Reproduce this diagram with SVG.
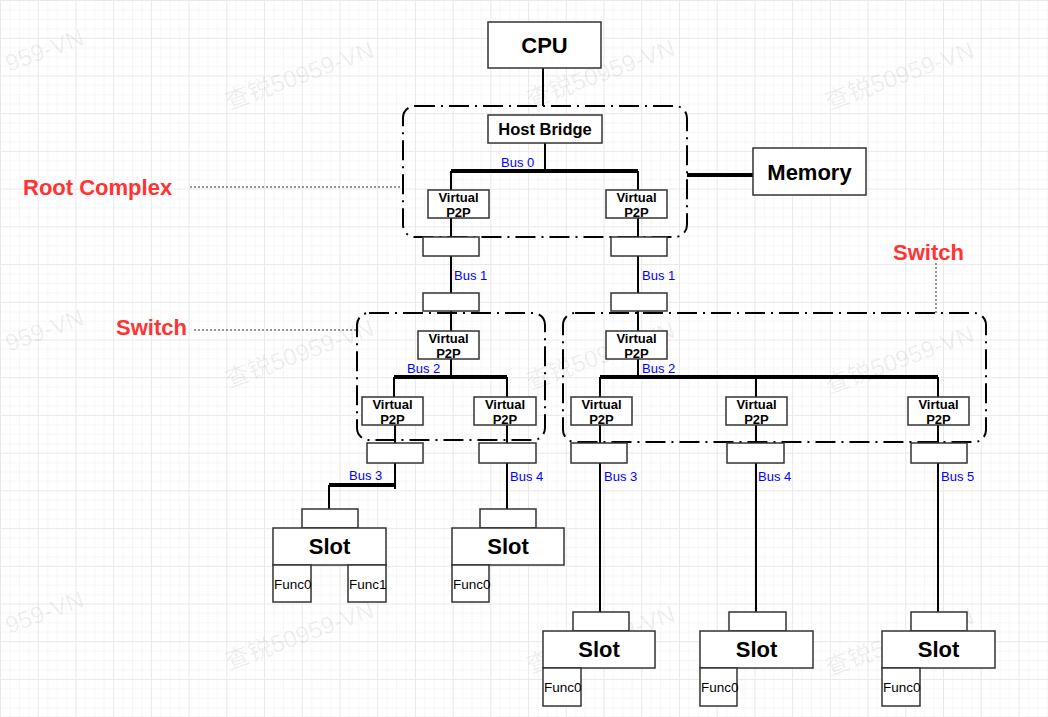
<svg xmlns="http://www.w3.org/2000/svg" width="1048" height="717" viewBox="0 0 1048 717">
<defs>
<pattern id="grid" x="0" y="0" width="37.72" height="37.72" patternUnits="userSpaceOnUse">
<path d="M9.93 0V37.72M19.36 0V37.72M28.79 0V37.72M0 9.93H37.72M0 19.36H37.72M0 28.79H37.72" stroke="#f6f6f6" stroke-width="1" fill="none"/>
<path d="M0.5 0V37.72M0 0.5H37.72" stroke="#e9e9e9" stroke-width="1" fill="none"/>
</pattern>
<style>
.box{fill:#fff;stroke:#333;stroke-width:1.5}
.cont{fill:none;stroke:#000;stroke-width:2;stroke-dasharray:20 6 2 6}
.ln{stroke:#000;stroke-width:2;fill:none}
.bus{stroke:#000;stroke-width:4;fill:none}
.dot{stroke:#333;stroke-width:1;stroke-dasharray:2 2;fill:none}
text{font-family:"Liberation Sans",Arial,sans-serif}
.big{font-size:22px;font-weight:bold;text-anchor:middle;fill:#000}
.hb{font-size:16.5px;font-weight:bold;text-anchor:middle;fill:#000}
.vp{font-size:13px;font-weight:bold;text-anchor:middle;fill:#000}
.bl{font-size:13px;fill:#0000ff}
.fn{font-size:13.5px;fill:#000}
.lab{font-size:22px;font-weight:bold;fill:#ff3333}
.wm{font-family:"Liberation Sans","Noto Sans CJK SC",sans-serif;font-size:24px;fill:#000;fill-opacity:0.07}
</style>
</defs>
<rect width="1048" height="717" fill="#fff"/>
<rect width="1048" height="717" fill="url(#grid)"/>
<g id="watermarks">
<text class="wm" x="9" y="72" transform="rotate(-20 9 72)">959-VN</text>
<text class="wm" x="229" y="110" transform="rotate(-20 229 110)">查锐50959-VN</text>
<text class="wm" x="530" y="108" transform="rotate(-20 530 108)">查锐50959-VN</text>
<text class="wm" x="829" y="110" transform="rotate(-20 829 110)">查锐50959-VN</text>
<text class="wm" x="9" y="352" transform="rotate(-20 9 352)">959-VN</text>
<text class="wm" x="229" y="388" transform="rotate(-20 229 388)">查锐50959-VN</text>
<text class="wm" x="530" y="390" transform="rotate(-20 530 390)">查锐50959-VN</text>
<text class="wm" x="829" y="394" transform="rotate(-20 829 394)">查锐50959-VN</text>
<text class="wm" x="9" y="634" transform="rotate(-20 9 634)">959-VN</text>
<text class="wm" x="229" y="670" transform="rotate(-20 229 670)">查锐50959-VN</text>
<text class="wm" x="530" y="674" transform="rotate(-20 530 674)">查锐50959-VN</text>
<text class="wm" x="829" y="676" transform="rotate(-20 829 676)">查锐50959-VN</text>
</g>
<g id="connectors">
<path class="ln" d="M543 68V106"/>
<path class="ln" d="M545 143V171"/>
<path class="bus" d="M451 171H638"/>
<path class="ln" d="M451 171V190M638 171V190"/>
<path class="bus" d="M687 175H753"/>
<path class="ln" d="M451 218V331M638 218V331"/>
<path class="ln" d="M451 359V377M638 359V377"/>
<path class="bus" d="M394 377H507"/>
<path class="bus" d="M600 377H938"/>
<path class="ln" d="M394 377V397M507 377V397M600 377V397M756 377V397M938 377V397"/>
<path class="ln" d="M395 425V489"/>
<path class="bus" d="M329 485H395"/>
<path class="ln" d="M329 485V509"/>
<path class="ln" d="M507 425V509"/>
<path class="ln" d="M600 425V612M756 425V612M938 425V612"/>
<path class="dot" d="M190 187H402"/>
<path class="dot" d="M194 330H357"/>
<path class="dot" d="M936 263V313"/>
</g>
<g id="root-complex">
<rect class="cont" x="403" y="106" width="284" height="131" rx="12"/>
</g>
<g id="switch-left">
<rect class="cont" x="357" y="313" width="188" height="127" rx="12"/>
</g>
<g id="switch-right">
<rect class="cont" x="563" y="313" width="423" height="129" rx="12"/>
</g>
<g id="cpu">
<rect class="box" x="488" y="22" width="113" height="46"/>
<text class="big" x="544.5" y="53">CPU</text>
</g>
<g id="memory">
<rect class="box" x="753" y="148" width="113" height="47"/>
<text class="big" x="809.5" y="180">Memory</text>
</g>
<g id="host-bridge">
<rect class="box" x="488" y="115" width="114" height="28"/>
<text class="hb" x="545" y="135">Host Bridge</text>
</g>
<g id="rc-vp2p-left">
<rect class="box" x="428" y="190" width="61" height="28"/>
<text class="vp" x="458.5" y="202">Virtual</text>
<text class="vp" x="458.5" y="216.5">P2P</text>
</g>
<g id="rc-vp2p-right">
<rect class="box" x="606" y="190" width="61" height="28"/>
<text class="vp" x="636.5" y="202">Virtual</text>
<text class="vp" x="636.5" y="216.5">P2P</text>
</g>
<g id="port-rc-left"><rect class="box" x="423" y="237" width="56" height="19"/></g>
<g id="port-rc-right"><rect class="box" x="611" y="237" width="56" height="19"/></g>
<g id="port-swl-up"><rect class="box" x="423" y="293" width="56" height="18"/></g>
<g id="port-swr-up"><rect class="box" x="611" y="293" width="56" height="18"/></g>
<g id="swl-vp2p-up">
<rect class="box" x="418" y="331" width="61" height="28"/>
<text class="vp" x="448.5" y="343">Virtual</text>
<text class="vp" x="448.5" y="357.5">P2P</text>
</g>
<g id="swl-vp2p-a">
<rect class="box" x="362" y="397" width="61" height="28"/>
<text class="vp" x="392.5" y="409">Virtual</text>
<text class="vp" x="392.5" y="423.5">P2P</text>
</g>
<g id="swl-vp2p-b">
<rect class="box" x="474" y="397" width="62" height="28"/>
<text class="vp" x="505" y="409">Virtual</text>
<text class="vp" x="505" y="423.5">P2P</text>
</g>
<g id="swr-vp2p-up">
<rect class="box" x="606" y="331" width="61" height="28"/>
<text class="vp" x="636.5" y="343">Virtual</text>
<text class="vp" x="636.5" y="357.5">P2P</text>
</g>
<g id="swr-vp2p-a">
<rect class="box" x="571" y="397" width="61" height="28"/>
<text class="vp" x="601.5" y="409">Virtual</text>
<text class="vp" x="601.5" y="423.5">P2P</text>
</g>
<g id="swr-vp2p-b">
<rect class="box" x="726" y="397" width="61" height="28"/>
<text class="vp" x="756.5" y="409">Virtual</text>
<text class="vp" x="756.5" y="423.5">P2P</text>
</g>
<g id="swr-vp2p-c">
<rect class="box" x="908" y="397" width="61" height="28"/>
<text class="vp" x="938.5" y="409">Virtual</text>
<text class="vp" x="938.5" y="423.5">P2P</text>
</g>
<g id="port-swl-a"><rect class="box" x="367" y="443" width="56" height="20"/></g>
<g id="port-swl-b"><rect class="box" x="479" y="443" width="57" height="20"/></g>
<g id="port-swr-a"><rect class="box" x="571" y="443" width="56" height="20"/></g>
<g id="port-swr-b"><rect class="box" x="727" y="443" width="57" height="20"/></g>
<g id="port-swr-c"><rect class="box" x="911" y="443" width="56" height="20"/></g>
<g id="bus-labels">
<text class="bl" x="501" y="167">Bus 0</text>
<text class="bl" x="454" y="280">Bus 1</text>
<text class="bl" x="642" y="280">Bus 1</text>
<text class="bl" x="407" y="373">Bus 2</text>
<text class="bl" x="642" y="373">Bus 2</text>
<text class="bl" x="349" y="480">Bus 3</text>
<text class="bl" x="510" y="481">Bus 4</text>
<text class="bl" x="604" y="481">Bus 3</text>
<text class="bl" x="758" y="481">Bus 4</text>
<text class="bl" x="941" y="481">Bus 5</text>
</g>
<g id="slot-1">
<rect class="box" x="302" y="509" width="56" height="19"/>
<rect class="box" x="273" y="528" width="113" height="37"/>
<text class="big" x="329.5" y="554">Slot</text>
<rect class="box" x="273" y="565" width="38" height="37"/>
<text class="fn" x="274" y="589">Func0</text>
<rect class="box" x="348" y="565" width="38" height="37"/>
<text class="fn" x="349" y="589">Func1</text>
</g>
<g id="slot-2">
<rect class="box" x="480" y="509" width="56" height="19"/>
<rect class="box" x="452" y="528" width="112" height="37"/>
<text class="big" x="508" y="554">Slot</text>
<rect class="box" x="452" y="565" width="37" height="37"/>
<text class="fn" x="453" y="589">Func0</text>
</g>
<g id="slot-3">
<rect class="box" x="573" y="612" width="56" height="19"/>
<rect class="box" x="543" y="631" width="112" height="37"/>
<text class="big" x="599" y="657">Slot</text>
<rect class="box" x="543" y="668" width="38" height="38"/>
<text class="fn" x="544" y="692">Func0</text>
</g>
<g id="slot-4">
<rect class="box" x="729" y="612" width="57" height="19"/>
<rect class="box" x="700" y="631" width="113" height="37"/>
<text class="big" x="756.5" y="657">Slot</text>
<rect class="box" x="700" y="668" width="37" height="38"/>
<text class="fn" x="701" y="692">Func0</text>
</g>
<g id="slot-5">
<rect class="box" x="911" y="612" width="56" height="19"/>
<rect class="box" x="882" y="631" width="113" height="37"/>
<text class="big" x="938.5" y="657">Slot</text>
<rect class="box" x="882" y="668" width="38" height="38"/>
<text class="fn" x="883" y="692">Func0</text>
</g>
<g id="labels">
<text class="lab" x="23" y="195">Root Complex</text>
<text class="lab" x="116" y="335">Switch</text>
<text class="lab" x="893" y="260">Switch</text>
</g>
</svg>
